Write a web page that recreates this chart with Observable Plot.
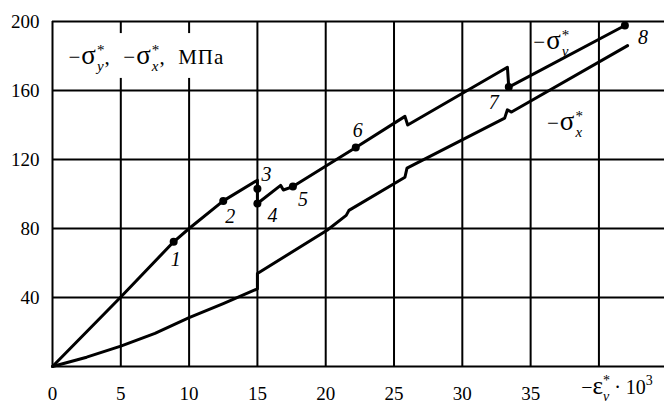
<!DOCTYPE html>
<html><head><meta charset="utf-8">
<script src="https://cdn.jsdelivr.net/npm/d3@7"></script>
<script src="https://cdn.jsdelivr.net/npm/@observablehq/plot@0.6"></script>
<style>
body{margin:0;background:#fff;}
</style>
</head><body><div id="chart"></div>
<script>
// -σy* curve (strain ·10^3, stress MPa)
const sigmaYStrain = [0, 5, 8.87, 10, 12.5, 15, 15, 16.7, 16.9, 17.6, 22.2, 25.8, 26.0, 33.3, 33.4, 41.9];
const sigmaYStress = [0, 40.3, 72.3, 80, 96, 108, 94.5, 105, 102.3, 104.3, 127, 145, 140, 173.5, 162, 197.7];
// -σx* curve
const sigmaXStrain = [0, 2.5, 5, 7.5, 10, 12.5, 15, 15, 20.1, 21.5, 21.7, 25.8, 25.95, 33.1, 33.3, 33.6, 42.1];
const sigmaXStress = [0, 5.4, 11.8, 19.2, 28.3, 36.5, 45, 53.9, 79, 87.6, 90.5, 109.7, 115, 144, 148.8, 147.5, 186];
// numbered points on -σy*
const pointNames  = ["1", "2", "3", "4", "5", "6", "7", "8"];
const pointStrain = [8.87, 12.5, 15, 15, 17.6, 22.2, 33.4, 41.9];
const pointStress = [72.3, 96, 103, 94.5, 104.3, 127, 162, 197.7];
// axes
const xTicks = [0, 5, 10, 15, 20, 25, 30, 35, 40];
const yTicks = [40, 80, 120, 160, 200];
const titleText = "−{%σ}{^*}{_y},  −{%σ}{^*}{_x},  МПа";
const xLabelText = "−{%ε}{^*}{_v} · 10{^3}";
const seriesYName = "−{%σ}{^*}{_y}";
const seriesXName = "−{%σ}{^*}{_x}";

const toRows = (xs, ys) => xs.map((x, i) => ({x, y: ys[i]}));
const lineY = toRows(sigmaYStrain, sigmaYStress);
const lineX = toRows(sigmaXStrain, sigmaXStress);
const pts = pointNames.map((n, i) => ({n, x: pointStrain[i], y: pointStress[i]}));

const labelOff = [[2,18],[7,16],[9,-14],[15,12],[10,13],[2,-17],[-15,16],[18,12]];
const font = "Liberation Serif";

const plot = Plot.plot({
  width: 664, height: 407,
  marginLeft: 52, marginRight: 0, marginTop: 21, marginBottom: 41,
  x: {domain: [0, 44.8]},
  y: {domain: [0, 200]},
  style: {fontFamily: font, fontSize: "19px", background: "white", color: "black"},
  marks: [
    Plot.ruleX(xTicks, {stroke: "black", strokeWidth: 2}),
    Plot.ruleY([0, ...yTicks], {stroke: "black", strokeWidth: 2}),
    Plot.rect([0], {x1: 0.6, x2: 14.1, y1: 167, y2: 193, fill: "white"}),
    Plot.axisX(xTicks.filter(d => d < 40), {tickSize: 0, tickPadding: 20, label: null, fontSize: 19}),
    Plot.axisY(yTicks, {tickSize: 0, tickPadding: 13, label: null, fontSize: 19}),
    Plot.line(lineY, {x: "x", y: "y", stroke: "black", strokeWidth: 3}),
    Plot.line(lineX, {x: "x", y: "y", stroke: "black", strokeWidth: 3}),
    Plot.dot(pts, {x: "x", y: "y", r: 4, fill: "black"}),
    ...pts.map((p, i) => Plot.text([p], {x: "x", y: "y", text: "n", dx: labelOff[i][0], dy: labelOff[i][1],
      fontSize: 20, fontStyle: "italic", fill: "black"})),
    Plot.text([titleText], {x: 1.17, y: 179, text: d => d, textAnchor: "start", fontSize: 21, className: "rich wide"}),
    Plot.text([seriesYName], {x: 35.2, y: 188, text: d => d, textAnchor: "start", fontSize: 21, className: "rich wide"}),
    Plot.text([seriesXName], {x: 36.2, y: 141, text: d => d, textAnchor: "start", fontSize: 21, className: "rich wide"}),
    Plot.text([xLabelText], {x: 38.7, y: -12.5, text: d => d, textAnchor: "start", fontSize: 20, className: "rich"})
  ]
});
document.getElementById("chart").appendChild(plot);

// rich-text: {%..} large glyph, {^..} superscript, {_..} subscript (stacked under preceding superscript)
d3.select(plot).selectAll("g.rich text").each(function() {
  const t = d3.select(this);
  const wide = this.parentNode.classList.contains("wide");
  const markup = this.textContent;
  t.text(null).style("white-space", "pre");
  if (wide) t.attr("letter-spacing", 1);
  const parts = markup.split(/(\{[\^_%][^}]*\})/).filter(s => s);
  let shift = 0, lastSupW = 0, prevSup = false;
  for (const p of parts) {
    const m = p.match(/^\{([\^_%])([^}]*)\}$/);
    if (!m) {
      t.append("tspan").attr("dy", -shift).text(p);
      shift = 0; prevSup = false;
    } else if (m[1] === "%") {
      t.append("tspan").attr("dy", -shift).attr("font-size", wide ? 27 : 25).text(m[2]);
      shift = 0; prevSup = false;
    } else if (m[1] === "^") {
      const d = -9;
      t.append("tspan").attr("dy", d - shift).attr("font-size", wide ? 15 : 14).text(m[2]);
      shift = d; lastSupW = m[2].length * (wide ? 8.5 : 7); prevSup = true;
    } else {
      const d = 7;
      const s = t.append("tspan").attr("dy", d - shift).attr("font-size", wide ? 15 : 14).attr("font-style", "italic").text(m[2]);
      if (prevSup) s.attr("dx", -lastSupW);
      shift = d; prevSup = false;
    }
  }
  if (shift) t.append("tspan").attr("dy", -shift).text("");
});
</script>
</body></html>
